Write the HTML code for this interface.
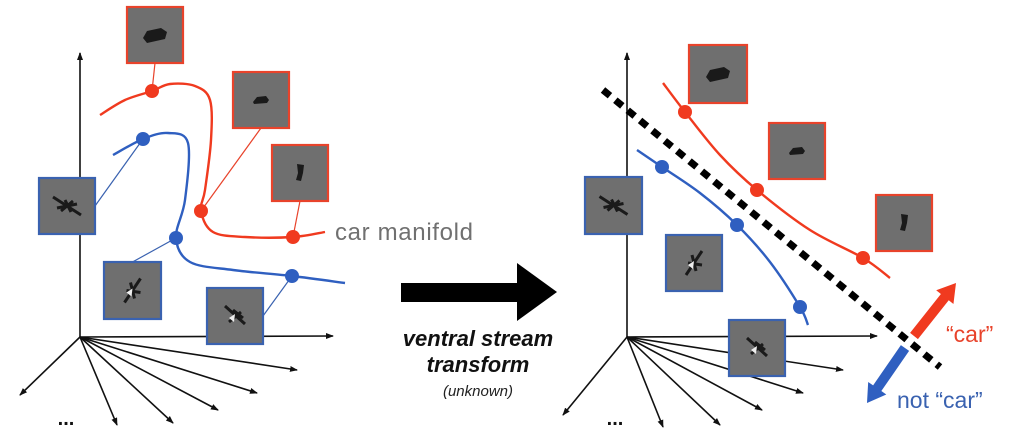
<!DOCTYPE html>
<html><head><meta charset="utf-8"><style>
html,body{margin:0;padding:0;background:#fff;width:1014px;height:433px;overflow:hidden}
svg{display:block}
text{font-family:"Liberation Sans",sans-serif}
</style></head><body>
<svg id="s" width="1014" height="433" viewBox="0 0 1014 433" xmlns="http://www.w3.org/2000/svg">
<defs>
<marker id="ah" markerWidth="8" markerHeight="8" refX="7" refY="4" orient="auto" markerUnits="userSpaceOnUse"><path d="M0,1 L8,4 L0,7 Z" fill="#111"/></marker>
</defs>
<g id="g"></g>
<text x="335" y="240" font-size="24" fill="#707070" textLength="138">car manifold</text>
<g>
<rect x="401" y="283" width="118" height="19" fill="#000"/>
<path d="M517,263 L557,292 L517,321 Z" fill="#000"/>
</g>
<text x="478" y="346" font-size="22" font-weight="bold" font-style="italic" text-anchor="middle" fill="#111">ventral stream</text>
<text x="478" y="372" font-size="22" font-weight="bold" font-style="italic" text-anchor="middle" fill="#111">transform</text>
<text x="478" y="396" font-size="15" font-style="italic" text-anchor="middle" fill="#222">(unknown)</text>
<text x="66" y="425" font-size="20" font-weight="bold" text-anchor="middle" fill="#111">...</text>
<text x="615" y="425" font-size="20" font-weight="bold" text-anchor="middle" fill="#111">...</text>
<text x="946" y="342" font-size="23" fill="#e8432b">“car”</text>
<text x="897" y="408" font-size="23" fill="#3a62b0">not “car”</text>
</svg>
<script>
// left panel curves
const leftRedCurve=[[100,115],[125,100],[152,91],[170,84],[195,86],[210,100],[211,140],[205,190],[201,211],[213,232],[245,237],[293,237],[325,232]];
const leftRedDots=[[152,91],[201,211],[293,237]];
const leftBlueCurve=[[113,155],[143,139],[168,133],[188,143],[185,200],[176,238],[190,262],[233,270],[292,276],[345,283]];
const leftBlueDots=[[143,139],[176,238],[292,276]];
// right panel curves
const rightRedCurve=[[663,83],[685,112],[720,155],[757,190],[810,230],[863,258],[890,278]];
const rightRedDots=[[685,112],[757,190],[863,258]];
const rightBlueCurve=[[637,150],[662,167],[700,193],[737,225],[770,262],[800,307],[808,325]];
const rightBlueDots=[[662,167],[737,225],[800,307]];
// boxes: x,y,size,kind,link target
const redBoxes=[[127,7,56,0,152,91],[233,72,56,1,201,211],[272,145,56,2,293,237],[689,45,58,0,-1,-1],[769,123,56,1,-1,-1],[876,195,56,2,-1,-1]];
const blueBoxes=[[39,178,56,3,143,139],[104,262,57,4,176,238],[207,288,56,5,292,276],[585,177,57,3,-1,-1],[666,235,56,4,-1,-1],[729,320,56,5,-1,-1]];
const origins=[[80,337],[627,337]];
const leftRays=[[20,395],[117,425],[173,423],[218,410],[257,393],[297,370]];
const rightRays=[[563,415],[663,427],[720,425],[762,410],[803,393],[843,370]];

const NS="http://www.w3.org/2000/svg";
const G=document.getElementById('g');
function mk(t,a,p){const e=document.createElementNS(NS,t);for(const k in a)e.setAttribute(k,a[k]);(p||G).appendChild(e);return e;}
function smooth(p){let d=`M${p[0][0]},${p[0][1]}`;for(let i=0;i<p.length-1;i++){const p0=p[i-1]||p[i],p1=p[i],p2=p[i+1],p3=p[i+2]||p2;d+=` C${p1[0]+(p2[0]-p0[0])/6},${p1[1]+(p2[1]-p0[1])/6} ${p2[0]-(p3[0]-p1[0])/6},${p2[1]-(p3[1]-p1[1])/6} ${p2[0]},${p2[1]}`;}return d;}

origins.forEach((o,i)=>{
 const a=mk('line',{x1:o[0],y1:o[1],x2:o[0],y2:53,stroke:'#111','stroke-width':1.6,'marker-end':'url(#ah)'});
 
 
 const b=mk('line',{x1:o[0],y1:o[1],x2:i?877:333,y2:o[1]-1,stroke:'#111','stroke-width':1.6,'marker-end':'url(#ah)'});
 
 
 (i?rightRays:leftRays).forEach(r=>{
  const l=mk('line',{x1:o[0],y1:o[1],x2:r[0],y2:r[1],stroke:'#111','stroke-width':1.6,'marker-end':'url(#ah)'});
  
  
 });
});

const ds=mk('line',{x1:603,y1:90,x2:940,y2:367,stroke:'#000','stroke-width':7,'stroke-dasharray':'9 7'});



function links(boxes,col){boxes.forEach(b=>{if(b[4]<0)return;const cx=b[0]+b[2]/2,cy=b[1]+b[2]/2;
 let sx=cx,sy=cy; if(Math.abs(b[4]-cx)>Math.abs(b[5]-cy)){sx=b[4]>cx?b[0]+b[2]:b[0];}else{sy=b[5]>cy?b[1]+b[2]:b[1];}
 const l=mk('line',{x1:sx,y1:sy,x2:b[4],y2:b[5],stroke:col,'stroke-width':1.2});
 
 });}
links(redBoxes,'#e8432b');links(blueBoxes,'#3a62b0');

function curve(pts,dots,col,name){
 const p=mk('path',{d:smooth(pts),fill:'none',stroke:col,'stroke-width':2.4});
 
 
 dots.forEach(d=>{const c=mk('circle',{cx:d[0],cy:d[1],r:7,fill:col});
  
  });
}
curve(leftRedCurve,leftRedDots,'#f03a1f','left-car-manifold');
curve(leftBlueCurve,leftBlueDots,'#2f5fc0','left-plane-manifold');
curve(rightRedCurve,rightRedDots,'#f03a1f','right-car-manifold');
curve(rightBlueCurve,rightBlueDots,'#2f5fc0','right-plane-manifold');

const glyphs=[
 'M-12,3 L-8,-4 L6,-7 L12,-3 L10,4 L-8,8 Z',
 'M-8,2 L-4,-3 L5,-4 L8,0 L6,3 L-7,4 Z',
 'M-3,-9 L4,-8 L3,0 L1,8 L-4,7 L-2,0 Z',
 'M-14,-9 L14,9 M-6,5 L6,-5 M-2,-6 L4,6 M-10,2 L10,-2',
 'M-8,12 L8,-12 M-6,0 L8,2 M-2,-8 L2,8',
 'M-10,-10 L10,8 M-6,6 L6,-4 M-2,-6 L8,2'];
function boxes(list,col,name){list.forEach(b=>{
 const r=mk('rect',{x:b[0],y:b[1],width:b[2],height:b[2],fill:'#6f6f6f',stroke:col,'stroke-width':2.2});
 
 
 const cx=b[0]+b[2]/2,cy=b[1]+b[2]/2;
 if(b[3]<3) mk('path',{d:glyphs[b[3]],transform:`translate(${cx},${cy})`,fill:'#1a1a1a'});
 else {mk('path',{d:glyphs[b[3]],transform:`translate(${cx},${cy})`,stroke:'#1a1a1a','stroke-width':3,fill:'none'});
  if(b[3]>3) mk('path',{d:'M-6,2 L0,-2 L-1,6 Z',transform:`translate(${cx},${cy})`,fill:'#eee'});}
});}
boxes(redBoxes,'#e8432b','car-image');
boxes(blueBoxes,'#3a62b0','plane-image');

function fat(x1,y1,x2,y2,col,name){const dx=x2-x1,dy=y2-y1,L=Math.hypot(dx,dy),ux=dx/L,uy=dy/L,nx=-uy,ny=ux,h=18,w=5,hw=11;
 const bx=x2-ux*h,by=y2-uy*h;
 const d=`M${x1+nx*w},${y1+ny*w} L${bx+nx*w},${by+ny*w} L${bx+nx*hw},${by+ny*hw} L${x2},${y2} L${bx-nx*hw},${by-ny*hw} L${bx-nx*w},${by-ny*w} L${x1-nx*w},${y1-ny*w} Z`;
 const p=mk('path',{d:d,fill:col});
 
 }
fat(914,336,956,283,'#f03a1f','car-direction-arrow');
fat(905,348,867,403,'#2f5fc0','not-car-direction-arrow');
</script>
</body></html>
